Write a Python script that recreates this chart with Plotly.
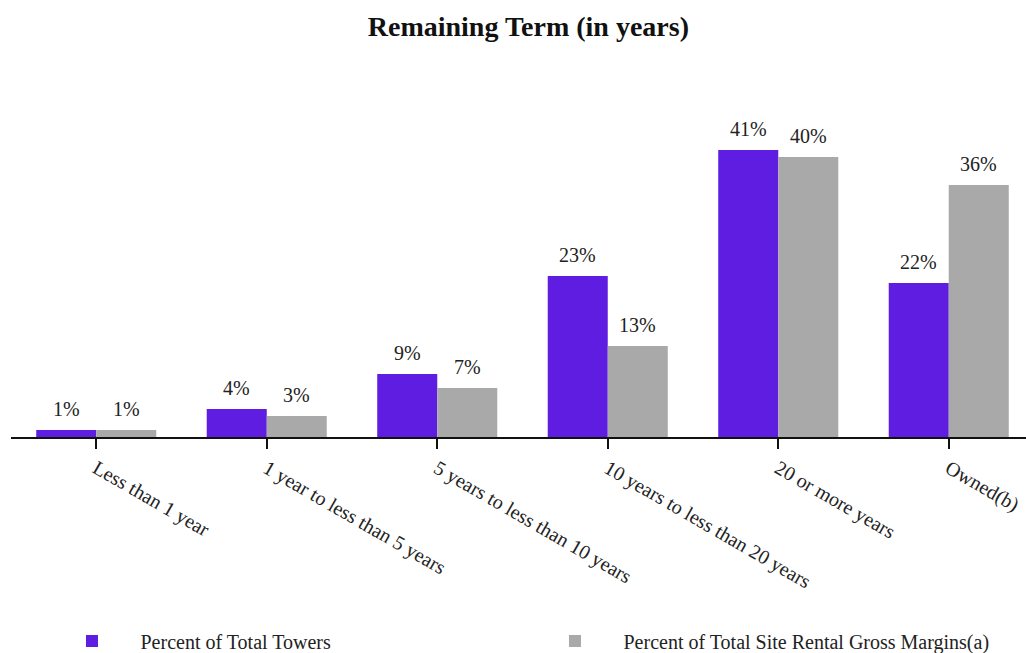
import plotly.graph_objects as go

categories = ["Less than 1 year", "1 year to less than 5 years", "5 years to less than 10 years",
              "10 years to less than 20 years", "20 or more years", "Owned(b)"]
towers = [1, 4, 9, 23, 41, 22]
margins = [1, 3, 7, 13, 40, 36]
series_names = ["Percent of Total Towers", "Percent of Total Site Rental Gross Margins(a)"]
colors = ["#5F1DE2", "#A9A9A9"]

FONT = "Liberation Serif, Times New Roman, serif"

fig = go.Figure()
for name, vals, col in zip(series_names, [towers, margins], colors):
    fig.add_trace(go.Bar(x=categories, y=vals, name=name, marker_color=col,
                         marker_line_width=0, hoverinfo="x+y"))

for vals, shift in [(towers, -30), (margins, 30)]:
    for c, v in zip(categories, vals):
        fig.add_annotation(x=c, y=v, text=f"{v}%", showarrow=False, xshift=shift,
                           yshift=8, yanchor="bottom",
                           font=dict(family=FONT, size=20, color="#222"))

fig.update_layout(
    width=1026, height=653,
    paper_bgcolor="white", plot_bgcolor="white",
    margin=dict(l=11, r=0, t=101, b=216, autoexpand=False),
    barmode="group", bargap=0.296, bargroupgap=0,
    title=dict(text="<b>Remaining Term (in years)</b>", x=0.515, xref="container",
               y=1 - 26 / 653, yref="container", yanchor="middle",
               font=dict(family=FONT, size=28, color="#111")),
    xaxis=dict(range=[-0.5, -0.5 + 1015 / 170.5], showline=True, linecolor="#111",
               linewidth=2, ticks="outside", ticklen=10, tickcolor="#111", tickwidth=1.5,
               tickangle=30, tickfont=dict(family=FONT, size=20, color="#222"),
               showgrid=False, fixedrange=True, automargin=False),
    yaxis=dict(range=[0, 48], visible=False, fixedrange=True, automargin=False),
    legend=dict(orientation="h", x=0.032, xanchor="left", y=-0.607, yanchor="middle",
                font=dict(family=FONT, size=20, color="#222"), entrywidth=381,
                entrywidthmode="pixels", itemwidth=87),
    showlegend=True,
)

fig.write_html("out.html", config={"displayModeBar": False},
               post_script="document.body.style.margin='0';")
